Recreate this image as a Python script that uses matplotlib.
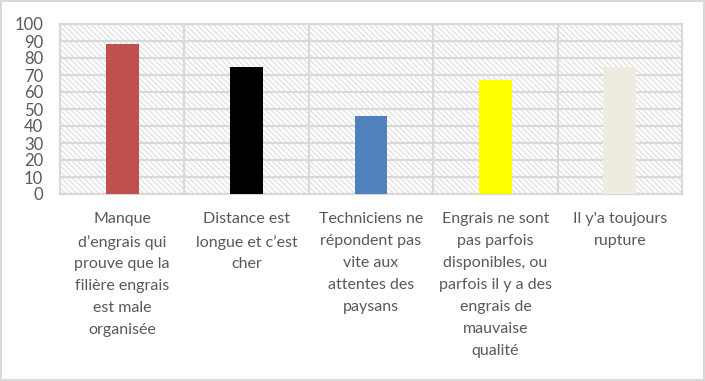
import matplotlib
matplotlib.use("Agg")
import matplotlib.pyplot as plt
from matplotlib.patches import Rectangle

categories = [
    "Manque\nd’engrais qui\nprouve que la\nfilière engrais\nest male\norganisée",
    "Distance est\nlongue et c’est\ncher",
    "Techniciens ne\nrépondent pas\nvite aux\nattentes des\npaysans",
    "Engrais ne sont\npas parfois\ndisponibles, ou\nparfois il y a des\nengrais de\nmauvaise\nqualité",
    "Il y'a toujours\nrupture",
]
values = [88, 75, 46, 67, 74.5]
colors = ["#C0504D", "#000000", "#4F81BD", "#FFFF00", "#EEECE1"]
yticks = list(range(0, 101, 10))

plt.rcParams['font.family'] = ['Lato', 'DejaVu Sans']
plt.rcParams['hatch.color'] = '#DDDDDD'
plt.rcParams['hatch.linewidth'] = 0.8

fig = plt.figure(figsize=(7.05, 3.81), dpi=100)
ax = fig.add_axes([60/705, 1-194/381, 622/705, 170/381])

# hatched background
bg = Rectangle((0, 0), 1, 1, transform=ax.transAxes, facecolor='white',
               edgecolor='#DDDDDD', hatch='\\\\\\\\\\\\', linewidth=0, zorder=0)
ax.add_patch(bg)

x = list(range(len(categories)))
ax.bar(x, values, width=0.265, color=colors, zorder=3)

ax.set_xlim(-0.5, len(categories) - 0.5)
ax.set_ylim(0, 100)
ax.set_yticks(yticks)
ax.set_yticklabels([str(t) for t in yticks], fontsize=12, color='#595959')
for t in yticks:
    ax.axhline(t, color='#D9D9D9', lw=1.6, zorder=1)
for b in [i + 0.5 for i in range(len(categories) - 1)]:
    ax.axvline(b, color='#D9D9D9', lw=1.6, zorder=1)

ax.set_xticks(x)
ax.set_xticklabels(categories, fontsize=11.5, color='#595959', linespacing=1.72,
                   va='top', ha='center')
ax.tick_params(axis='both', length=0)
ax.tick_params(axis='x', pad=13)
ax.tick_params(axis='y', pad=12)
for s in ax.spines.values():
    s.set_color('#D9D9D9')
    s.set_linewidth(1.6)
    s.set_zorder(2)

fig.patches.append(Rectangle((0.002, 0.003), 0.996, 0.994, transform=fig.transFigure,
                             fill=False, edgecolor='#D9D9D9', linewidth=1.5))

fig.savefig("out.png", dpi=100)
